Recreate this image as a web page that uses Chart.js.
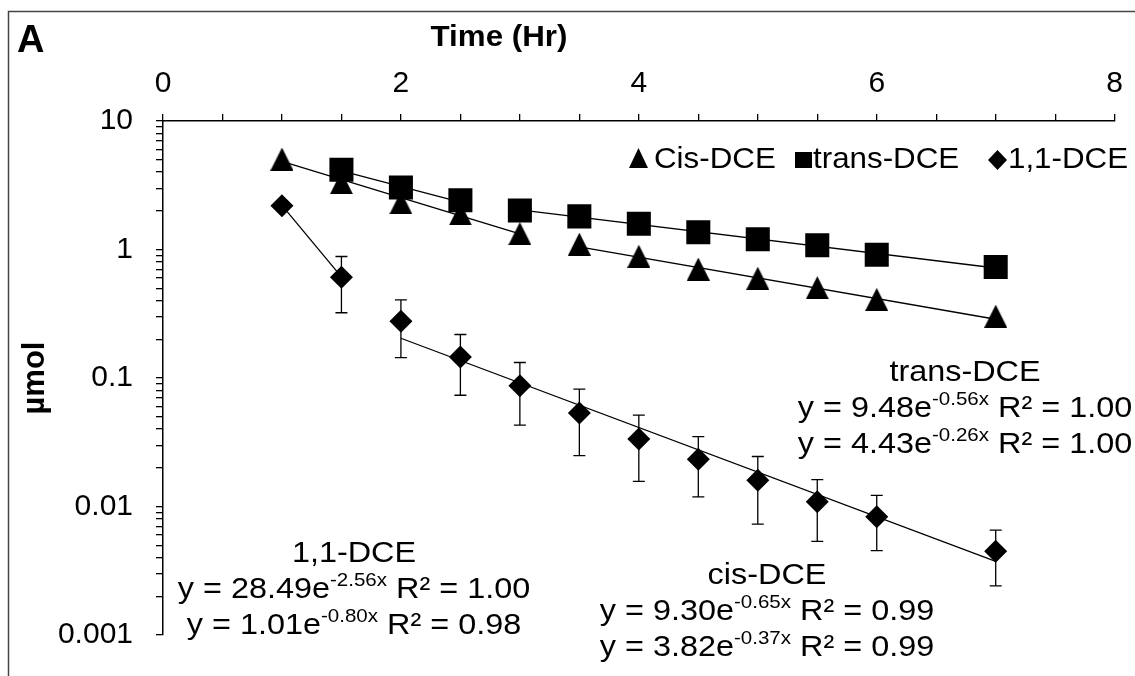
<!DOCTYPE html>
<html>
<head>
<meta charset="utf-8">
<title>DCE decay</title>
<script src="https://cdn.jsdelivr.net/npm/chart.js@4.4.1/dist/chart.umd.min.js"></script>
<style>
  html, body { margin: 0; padding: 0; background: #fff; }
  canvas { display: block; }
</style>
</head>
<body>
<canvas id="decay-chart" width="1135" height="676"></canvas>
<script>
// sampling times (hr) and amounts (umol)
const cisTimes = [1, 1.5, 2, 2.5, 3, 3.5, 4, 4.5, 5, 5.5, 6, 7];
const cisDCE = [5.06, 3.31, 2.31, 1.89, 1.33, 1.10, 0.887, 0.705, 0.598, 0.505, 0.409, 0.303];

const transTimes = [1.5, 2, 2.5, 3, 3.5, 4, 4.5, 5, 5.5, 6, 7];
const transDCE = [4.17, 3.04, 2.42, 2.01, 1.81, 1.585, 1.36, 1.20, 1.08, 0.91, 0.73];

const dce11Times = [1, 1.5, 2, 2.5, 3, 3.5, 4, 4.5, 5, 5.5, 6, 7];
const dce11 = [2.19, 0.607, 0.276, 0.146, 0.0871, 0.0533, 0.0335, 0.0233, 0.016, 0.0109, 0.00834, 0.00448];
const dce11High = [null, 0.882, 0.405, 0.218, 0.132, 0.082, 0.0514, 0.035, 0.0245, 0.0162, 0.0122, 0.00656];
const dce11Low = [null, 0.322, 0.144, 0.0734, 0.043, 0.0249, 0.0157, 0.0119, 0.0073, 0.00535, 0.00454, 0.00241];

// two-phase fits, y = a * e^(k x)
const cisFitA = [9.30, 3.82];
const cisFitK = [-0.65, -0.37];
const cisFitR2 = [0.99, 0.99];
const cisFitSpan = [[1, 3], [3.5, 7]];

const transFitA = [9.48, 4.43];
const transFitK = [-0.56, -0.26];
const transFitR2 = [1.00, 1.00];
const transFitSpan = [[1.5, 2.5], [3, 7]];

const dce11FitA = [28.49, 1.01];
const dce11FitK = [-2.56, -0.80];
const dce11FitR2 = [1.00, 0.98];
const dce11FitSpan = [[1, 1.5], [2, 7]];

// axis ticks
const xLabelled = [0, 2, 4, 6, 8];
const yDecades = [0.001, 0.01, 0.1, 1, 10];
const yTickLabels = ['0.001', '0.01', '0.1', '1', '10'];

const FAMILY = '"Liberation Sans", Arial, sans-serif';
const STRETCH = 1.08;   // the annotation type runs a little wide

function points(xs, ys)
{
    return xs.map((x, i) => ({ x: x, y: ys[i] }));
}

function fitLine(a, k, span)
{
    return span.map(x => ({ x: x, y: a * Math.exp(k * x) }));
}

function triangleMarker(w, h)
{
    const c = document.createElement('canvas');
    c.width = w;
    c.height = h;
    const g = c.getContext('2d');
    g.fillStyle = '#000';
    g.beginPath();
    g.moveTo(w / 2, 0);
    g.lineTo(w, h);
    g.lineTo(0, h);
    g.closePath();
    g.fill();
    return c;
}

function yTickValues()
{
    const ticks = [];
    for (let i = 0; i < yDecades.length; i++) {
        ticks.push(yDecades[i]);
        if (i < yDecades.length - 1) {
            for (let m = 2; m <= 9; m++) ticks.push(yDecades[i] * m);
        }
    }
    return ticks;
}

const fitDatasets = [];
[[cisFitA, cisFitK, cisFitSpan], [transFitA, transFitK, transFitSpan], [dce11FitA, dce11FitK, dce11FitSpan]]
    .forEach(([A, K, S]) => {
        for (let i = 0; i < A.length; i++) {
            fitDatasets.push({
                label: 'fit',
                data: fitLine(A[i], K[i], S[i]),
                showLine: true,
                borderColor: '#000',
                borderWidth: 1.3,
                pointRadius: 0,
                pointHoverRadius: 0
            });
        }
    });

// error bars for 1,1-DCE, drawn behind the markers
const errorBars = {
    id: 'errorBars',
    beforeDatasetsDraw(chart) {
        const ctx = chart.ctx;
        const xs = chart.scales.x, ys = chart.scales.y;
        ctx.save();
        ctx.strokeStyle = '#000';
        ctx.lineWidth = 1.3;
        dce11Times.forEach((t, i) => {
            if (dce11High[i] == null) return;
            const px = xs.getPixelForValue(t);
            const top = ys.getPixelForValue(dce11High[i]);
            const bot = ys.getPixelForValue(dce11Low[i]);
            ctx.beginPath();
            ctx.moveTo(px, top); ctx.lineTo(px, bot);
            ctx.moveTo(px - 6, top); ctx.lineTo(px + 6, top);
            ctx.moveTo(px - 6, bot); ctx.lineTo(px + 6, bot);
            ctx.stroke();
        });
        ctx.restore();
    }
};

// left-aligned text, widened horizontally
function wideText(ctx, text, x, y)
{
    ctx.save();
    ctx.translate(x, y);
    ctx.scale(STRETCH, 1);
    ctx.textAlign = 'left';
    ctx.fillText(text, 0, 0);
    ctx.restore();
    return ctx.measureText(text).width * STRETCH;
}

function wideWidth(ctx, text)
{
    return ctx.measureText(text).width * STRETCH;
}

function centeredText(ctx, text, cx, y)
{
    wideText(ctx, text, cx - wideWidth(ctx, text) / 2, y);
}

const EQ_FONT = '30px ' + FAMILY;
const SUP_FONT = '19px ' + FAMILY;

function drawFitText(ctx, cx, y, a, k, r2)
{
    const main = 'y = ' + a.toFixed(2) + 'e';
    const sup = k.toFixed(2) + 'x';
    const tail = ' R\u00B2 = ' + r2.toFixed(2);
    ctx.font = EQ_FONT;
    const w1 = wideWidth(ctx, main);
    const w3 = wideWidth(ctx, tail);
    ctx.font = SUP_FONT;
    const w2 = wideWidth(ctx, sup);
    let x = cx - (w1 + w2 + w3) / 2;
    ctx.font = EQ_FONT;
    wideText(ctx, main, x, y);
    x += w1;
    ctx.font = SUP_FONT;
    wideText(ctx, sup, x, y - 12);
    x += w2;
    ctx.font = EQ_FONT;
    wideText(ctx, tail, x, y);
}

function drawFitBlock(ctx, name, cx, y0, A, K, R2)
{
    ctx.font = EQ_FONT;
    centeredText(ctx, name, cx, y0);
    for (let i = 0; i < A.length; i++) {
        drawFitText(ctx, cx, y0 + 36 * (i + 1), A[i], K[i], R2[i]);
    }
}

// frame, panel letter, x title, legend and fit equations
const annotations = {
    id: 'annotations',
    afterDraw(chart) {
        const ctx = chart.ctx;
        ctx.save();

        ctx.strokeStyle = '#444';
        ctx.lineWidth = 1.5;
        ctx.beginPath();
        ctx.moveTo(8.5, 676);
        ctx.lineTo(8.5, 11.5);
        ctx.lineTo(1135, 11.5);
        ctx.stroke();

        ctx.fillStyle = '#000';
        ctx.textBaseline = 'alphabetic';
        ctx.font = 'bold 38px ' + FAMILY;
        ctx.textAlign = 'left';
        ctx.fillText('A', 17, 52);

        ctx.font = 'bold 29px ' + FAMILY;
        centeredText(ctx, 'Time (Hr)', 499, 46);

        // legend
        const ds = chart.data.datasets;
        ctx.beginPath();
        ctx.moveTo(638.5, 148); ctx.lineTo(648, 168); ctx.lineTo(629, 168); ctx.closePath();
        ctx.fill();
        ctx.fillRect(795, 152, 17, 16);
        ctx.beginPath();
        ctx.moveTo(997.5, 150); ctx.lineTo(1007, 160); ctx.lineTo(997.5, 170); ctx.lineTo(988, 160); ctx.closePath();
        ctx.fill();
        ctx.font = '29px ' + FAMILY;
        wideText(ctx, ds[0].label, 654, 168);
        wideText(ctx, ds[1].label, 813, 168);
        wideText(ctx, ds[2].label, 1008, 168);

        drawFitBlock(ctx, 'trans-DCE', 965, 381, transFitA, transFitK, transFitR2);
        drawFitBlock(ctx, 'cis-DCE', 767, 584, cisFitA, cisFitK, cisFitR2);
        drawFitBlock(ctx, '1,1-DCE', 354, 562, dce11FitA, dce11FitK, dce11FitR2);

        ctx.restore();
    }
};

const tickFont = { family: FAMILY, size: 30 };

new Chart(document.getElementById('decay-chart'), {
    type: 'scatter',
    data: {
        datasets: [
            {
                label: 'Cis-DCE',
                data: points(cisTimes, cisDCE),
                pointStyle: triangleMarker(23, 23),
                pointRadius: 12,
                backgroundColor: '#000',
                borderWidth: 0
            },
            {
                label: 'trans-DCE',
                data: points(transTimes, transDCE),
                pointStyle: 'rect',
                pointRadius: 17,
                backgroundColor: '#000',
                borderWidth: 0
            },
            {
                label: '1,1-DCE',
                data: points(dce11Times, dce11),
                pointStyle: 'rectRot',
                pointRadius: 11.5,
                backgroundColor: '#000',
                borderWidth: 0
            }
        ].concat(fitDatasets)
    },
    options: {
        responsive: false,
        animation: false,
        devicePixelRatio: 1,
        layout: { padding: { left: 10, top: 12, right: 19, bottom: 21 } },
        plugins: {
            legend: { display: false },
            tooltip: { enabled: false }
        },
        scales: {
            x: {
                type: 'linear',
                position: 'top',
                min: 0,
                max: 8,
                afterFit: (scale) => { scale.height = 109; },
                border: { display: true, color: '#000', width: 1.5 },
                grid: { drawOnChartArea: false, drawTicks: true, tickLength: 7, color: '#000', lineWidth: 1.3 },
                ticks: {
                    stepSize: 0.5,
                    autoSkip: false,
                    maxRotation: 0,
                    padding: 12,
                    color: '#000',
                    font: tickFont,
                    callback: (v) => (xLabelled.includes(v) ? String(v) : '')
                }
            },
            y: {
                type: 'logarithmic',
                min: 0.001,
                max: 10,
                afterFit: (scale) => { scale.width = 153; },
                afterBuildTicks: (scale) => {
                    scale.ticks = yTickValues().map(v => ({ value: v }));
                },
                border: { display: true, color: '#000', width: 1.5 },
                grid: { drawOnChartArea: false, drawTicks: true, tickLength: 7, color: '#000', lineWidth: 1.3 },
                title: {
                    display: true,
                    text: '\u00B5mol',
                    color: '#000',
                    font: { family: FAMILY, size: 31, weight: 'bold' },
                    padding: { top: 7, bottom: 0 }
                },
                ticks: {
                    autoSkip: false,
                    padding: 23,
                    color: '#000',
                    font: tickFont,
                    callback: (v) => {
                        const i = yDecades.findIndex(d => Math.abs(v / d - 1) < 1e-6);
                        return i >= 0 ? yTickLabels[i] : '';
                    }
                }
            }
        }
    },
    plugins: [errorBars, annotations]
});
</script>
</body>
</html>
